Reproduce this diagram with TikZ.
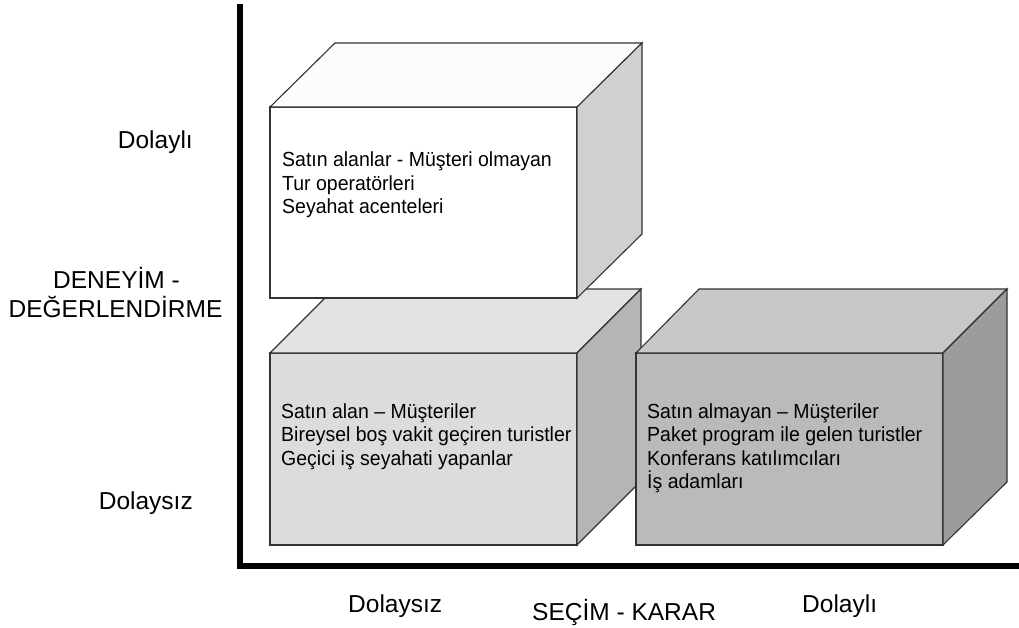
\documentclass[tikz,border=0pt]{standalone}
\usepackage{fontspec}
\setmainfont{Liberation Sans}
\newfontfamily\boxfont[FakeStretch=0.955]{Liberation Sans}
\definecolor{edgec}{HTML}{333333}
\definecolor{aFront}{HTML}{FFFFFF}
\definecolor{aTop}{HTML}{FCFCFC}
\definecolor{aRight}{HTML}{D0D0D0}
\definecolor{bFront}{HTML}{DCDCDC}
\definecolor{bTop}{HTML}{E3E3E3}
\definecolor{bRight}{HTML}{B5B5B5}
\definecolor{cFront}{HTML}{BABABA}
\definecolor{cTop}{HTML}{C7C7C7}
\definecolor{cRight}{HTML}{9C9C9C}
\tikzset{
  face/.style={draw=edgec, line width=1.1pt, line join=miter},
  boxtext/.style={anchor=base west, inner sep=0pt, font=\boxfont\fontsize{20.4}{23.3}\selectfont},
  axlabel/.style={inner sep=0pt, font=\fontsize{24.5}{29}\selectfont},
  axisline/.style={line width=6.5pt, line join=miter, black}
}
\begin{document}
\begin{tikzpicture}[x=1pt,y=-1pt]
\useasboundingbox (0,0) rectangle (1019,627);
\fill[white] (0,0) rectangle (1019,627);
% axes
\draw[axisline] (240,4) -- (240,566) -- (1019,566);
% box 2 (bottom left)
\filldraw[face, fill=bFront] (270,353) rectangle (577,545);
\filldraw[face, fill=bTop] (270,353) -- (334,289) -- (641,289) -- (577,353) -- cycle;
\filldraw[face, fill=bRight] (577,353) -- (641,289) -- (641,481) -- (577,545) -- cycle;
% box 3 (bottom right)
\filldraw[face, fill=cFront] (636,353) rectangle (943,545);
\filldraw[face, fill=cTop] (636,353) -- (699,289) -- (1007,289) -- (943,353) -- cycle;
\filldraw[face, fill=cRight] (943,353) -- (1007,289) -- (1007,482) -- (943,545) -- cycle;
% box 1 (top)
\filldraw[face, fill=aFront] (270,107) rectangle (577,298);
\filldraw[face, fill=aTop] (270,107) -- (335,43) -- (642,43) -- (577,107) -- cycle;
\filldraw[face, fill=aRight] (577,107) -- (642,43) -- (642,234) -- (577,298) -- cycle;
% box texts
\node[boxtext] (a1) at (282,166.7) {Satın alanlar - Müşteri olmayan};
\node[boxtext] (a2) at (282,190) {Tur operatörleri};
\node[boxtext] (a3) at (282,213.3) {Seyahat acenteleri};
\node[boxtext] (b1) at (281,418.3) {Satın alan – Müşteriler};
\node[boxtext] (b2) at (281,441.7) {Bireysel boş vakit geçiren turistler};
\node[boxtext] (b3) at (281,465) {Geçici iş seyahati yapanlar};
\node[boxtext] (c1) at (647,418.3) {Satın almayan – Müşteriler};
\node[boxtext] (c2) at (647,441.7) {Paket program ile gelen turistler};
\node[boxtext] (c3) at (647,465) {Konferans katılımcıları};
\node[boxtext] (c4) at (647,488.3) {İş adamları};
% axis labels
\node[axlabel, anchor=base east] (ly1) at (193,148) {Dolaylı};
\node[axlabel, anchor=base] (ly2) at (116.5,288) {DENEYİM -};
\node[axlabel, anchor=base] (ly3) at (115.5,317) {DEĞERLENDİRME};
\node[axlabel, anchor=base east] (ly4) at (193,509) {Dolaysız};
\node[axlabel, anchor=base west] (lx1) at (348,612) {Dolaysız};
\node[axlabel, anchor=base west] (lx2) at (532,620) {SEÇİM - KARAR};
\node[axlabel, anchor=base west] (lx3) at (802,612) {Dolaylı};
\end{tikzpicture}
\end{document}
